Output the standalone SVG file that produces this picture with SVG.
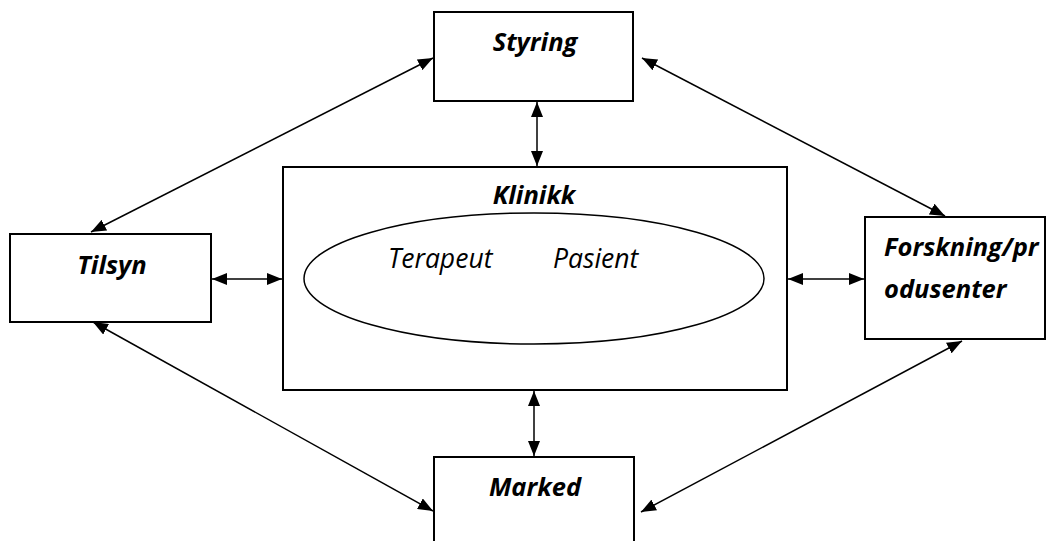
<svg xmlns="http://www.w3.org/2000/svg" width="1055" height="541" viewBox="0 0 1055 541">
<style>
.box{fill:#fff;stroke:#000;stroke-width:2}
.lbl{font-family:"Open Sans","Noto Sans",sans-serif;font-style:italic;font-weight:bold;font-size:25.5px;fill:#000}
.lblr{font-family:"Open Sans","Noto Sans",sans-serif;font-style:italic;font-size:26.5px;fill:#000}
.con{stroke:#000;stroke-width:1.5;fill:none;marker-start:url(#ah);marker-end:url(#ah)}
</style>
<defs>
<marker id="ah" viewBox="0 0 15 12" refX="15" refY="6" markerWidth="15" markerHeight="12" markerUnits="userSpaceOnUse" orient="auto-start-reverse">
<path d="M0,0 L15,6 L0,12 Z" fill="#000"/>
</marker>
</defs>
<rect width="1055" height="541" fill="#fff"/>
<g id="connectors">
<line class="con" x1="537" y1="102" x2="537" y2="166"/>
<line class="con" x1="534" y1="391" x2="534" y2="456"/>
<line class="con" x1="212" y1="279" x2="282" y2="279"/>
<line class="con" x1="788" y1="279" x2="864" y2="279"/>
<line class="con" x1="433" y1="58" x2="91" y2="232"/>
<line class="con" x1="642" y1="58" x2="945" y2="216"/>
<line class="con" x1="93" y1="322" x2="433" y2="511"/>
<line class="con" x1="962" y1="341" x2="641" y2="512"/>
</g>
<g id="styring">
<rect class="box" x="434" y="12" width="199" height="89"/>
<text class="lbl" x="535" y="51" text-anchor="middle">Styring</text>
</g>
<g id="tilsyn">
<rect class="box" x="10" y="234" width="201" height="88"/>
<text class="lbl" x="112" y="274" text-anchor="middle">Tilsyn</text>
</g>
<g id="klinikk">
<rect class="box" x="283" y="167" width="504" height="223"/>
<text class="lbl" x="534" y="204" text-anchor="middle">Klinikk</text>
<ellipse cx="534" cy="278.5" rx="230" ry="65.5" fill="none" stroke="#000" stroke-width="1.5"/>
<text class="lblr" x="388" y="268">Terapeut</text>
<text class="lblr" x="553" y="268">Pasient</text>
</g>
<g id="forskning">
<rect class="box" x="865" y="217" width="180" height="122"/>
<text class="lbl" x="884" y="256">Forskning/pr</text>
<text class="lbl" x="884" y="298">odusenter</text>
</g>
<g id="marked">
<rect class="box" x="434" y="457" width="200" height="95"/>
<text class="lbl" x="535" y="496" text-anchor="middle">Marked</text>
</g>
</svg>
